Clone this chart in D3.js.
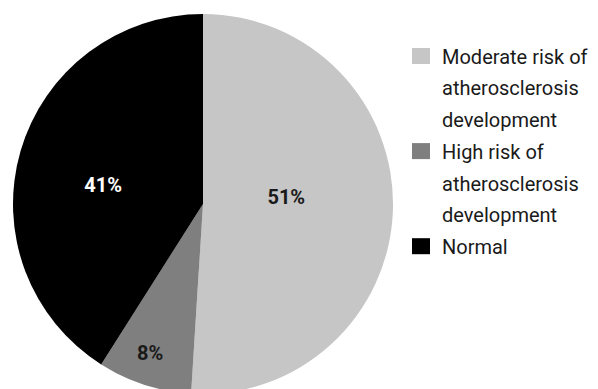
<!DOCTYPE html>
<html>
<head>
<meta charset="utf-8">
<script src="https://cdn.jsdelivr.net/npm/d3@7"></script>
<style>
  html, body { margin: 0; padding: 0; background: #fff; }
  svg { display: block; }
  text { font-family: Roboto, "DejaVu Sans", sans-serif; }
</style>
</head>
<body>
<svg id="chart" width="598" height="389"></svg>
<script>
// Atherosclerosis risk distribution
const categories = [
  "Moderate risk of atherosclerosis development",
  "High risk of atherosclerosis development",
  "Normal"
];
const values = [51, 8, 41];
const valueLabels = ["51%", "8%", "41%"];
const legendLines = [
  ["Moderate risk of", "atherosclerosis", "development"],
  ["High risk of", "atherosclerosis", "development"],
  ["Normal"]
];

const colors = ["#c6c6c6", "#7f7f7f", "#000000"];
const labelColors = ["#1a1a1a", "#1a1a1a", "#ffffff"];
// label placement inside each slice: angle (deg, clockwise from top) and radius fraction
const labelPolar = [[85, 0.44], [199.6, 0.83], [280.8, 0.535]];

const svg = d3.select("#chart");
const cx = 203, cy = 204, r = 190;

const pie = d3.pie().sort(null).value(d => d);
const arcs = pie(values);
const arc = d3.arc().innerRadius(0).outerRadius(r);

const g = svg.append("g").attr("transform", `translate(${cx},${cy})`);

g.selectAll("path.slice")
  .data(arcs)
  .join("path")
  .attr("class", "slice")
  .attr("d", arc)
  .attr("fill", (d, i) => colors[i]);

g.selectAll("text.val")
  .data(arcs)
  .join("text")
  .attr("class", "val")
  .attr("x", (d, i) => Math.sin(labelPolar[i][0] * Math.PI / 180) * r * labelPolar[i][1])
  .attr("y", (d, i) => -Math.cos(labelPolar[i][0] * Math.PI / 180) * r * labelPolar[i][1])
  .attr("dy", "0.36em")
  .attr("text-anchor", "middle")
  .attr("font-size", 20)
  .attr("font-weight", "bold")
  .attr("fill", (d, i) => labelColors[i])
  .text((d, i) => valueLabels[i]);

// legend
const lineH = 31.7;
const legend = svg.append("g").attr("transform", "translate(412,56.5)");
let line = 0;
legendLines.forEach((lines, i) => {
  const top = line * lineH;
  legend.append("rect")
    .attr("x", 0)
    .attr("y", top - 8.5)
    .attr("width", 18)
    .attr("height", 16)
    .attr("fill", colors[i]);
  lines.forEach((t, k) => {
    legend.append("text")
      .attr("x", 30)
      .attr("y", (line + k) * lineH)
      .attr("dy", "0.36em")
      .attr("font-size", 20)
      .attr("fill", "#1a1a1a")
      .text(t);
  });
  line += lines.length;
});
</script>
</body>
</html>
